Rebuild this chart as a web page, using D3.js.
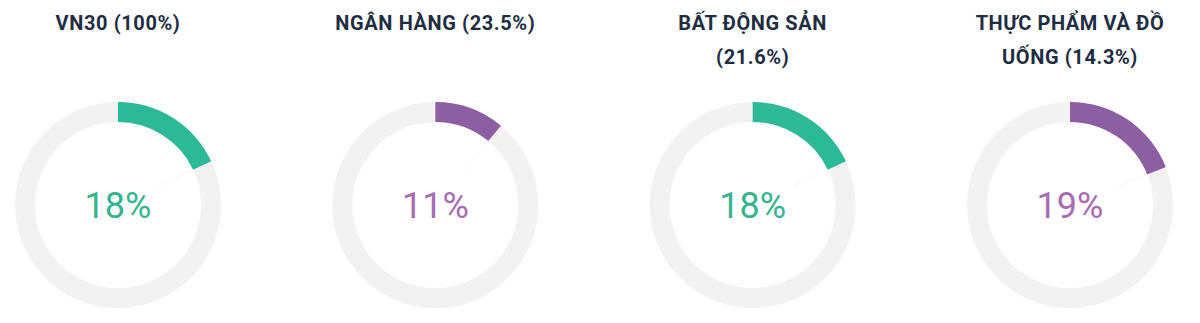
<!DOCTYPE html>
<html><head><meta charset="utf-8">
<script src="https://cdn.jsdelivr.net/npm/d3@7/dist/d3.min.js"></script>
<style>
html,body{margin:0;padding:0;background:#fff;}
svg{display:block;}
</style></head>
<body>
<svg id="c" width="1200" height="323"></svg>
<script>
const titles = [["VN30 (100%)"], ["NGÂN HÀNG (23.5%)"], ["BẤT ĐỘNG SẢN", "(21.6%)"], ["THỰC PHẨM VÀ ĐỒ", "UỐNG (14.3%)"]];
const values = [18, 11, 18, 19];
const arcColors = ["#2bb997", "#8e5ea2", "#2bb997", "#8e5ea2"];
const textColors = ["#35b58f", "#a86cb4", "#35b58f", "#a86cb4"];

const svg = d3.select("#c");
const x = d3.scalePoint().domain(d3.range(values.length)).range([118, 1070]);
const angle = d3.scaleLinear().domain([0, 100]).range([0, 2 * Math.PI]);
const cy = 205, outerR = 103, innerR = 83;
const arc = d3.arc().innerRadius(innerR).outerRadius(outerR);

values.forEach((v, i) => {
  const g = svg.append("g").attr("transform", `translate(${x(i)},0)`);
  titles[i].forEach((t, j) => {
    g.append("text").attr("x", 0).attr("y", 30 + j * 34)
      .attr("text-anchor", "middle")
      .attr("font-family", "Roboto, sans-serif").attr("font-weight", 700)
      .attr("font-size", 20).attr("letter-spacing", 0.6)
      .attr("fill", "#1e2d42").text(t);
  });
  const d = g.append("g").attr("transform", `translate(0,${cy})`);
  d.append("path").attr("d", arc({startAngle: 0, endAngle: 2 * Math.PI})).attr("fill", "#f2f2f2");
  d.append("path").attr("d", arc({startAngle: 0, endAngle: angle(v)})).attr("fill", arcColors[i]);
  const a = angle(v);
  d.append("line")
    .attr("x1", Math.sin(a) * innerR).attr("y1", -Math.cos(a) * innerR)
    .attr("x2", Math.sin(a) * 45).attr("y2", -Math.cos(a) * 45)
    .attr("stroke", "#f4f4f4").attr("stroke-width", 1);
  d.append("text").attr("x", 0).attr("y", 13)
    .attr("text-anchor", "middle")
    .attr("font-family", "Roboto, sans-serif").attr("font-weight", 400)
    .attr("font-size", 36).attr("fill", textColors[i]).text(v + "%");
});
</script>
</body></html>
